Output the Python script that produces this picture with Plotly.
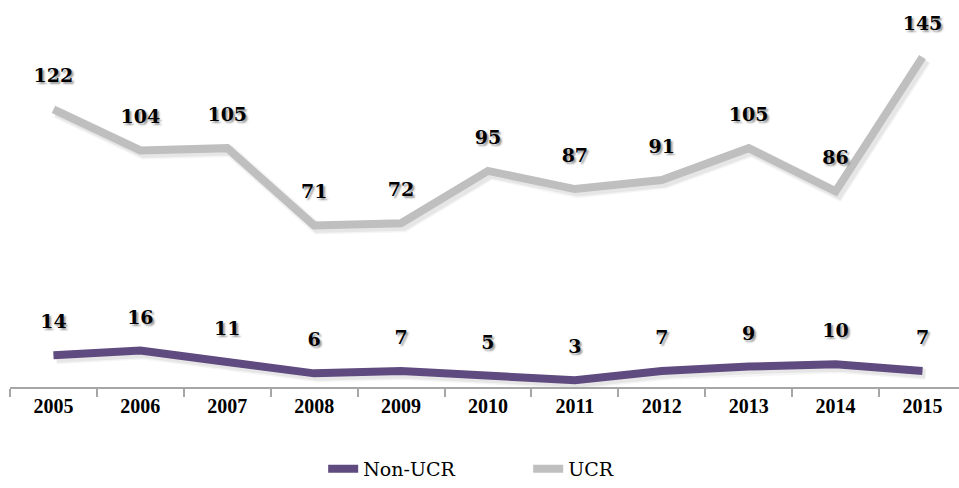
import plotly.graph_objects as go

years = ['2005', '2006', '2007', '2008', '2009', '2010', '2011', '2012', '2013', '2014', '2015']
non_ucr = [14, 16, 11, 6, 7, 5, 3, 7, 9, 10, 7]
ucr = [122, 104, 105, 71, 72, 95, 87, 91, 105, 86, 145]

purple = '#5f4b7f'
grey = '#bfbfbf'
serif = 'Liberation Serif'

xrange_main = [-0.5, 10.42]
yrange_main = [0, 160]
# shadow subplot: same data, ranges nudged so lines land ~3px right/down
xs, ys = 3 / 86.9, 3 / 2.28
xrange_shadow = [xrange_main[0] - xs, xrange_main[1] - xs]
yrange_shadow = [yrange_main[0] + ys, yrange_main[1] + ys]

fig = go.Figure()

# soft drop shadows (drawn first, on hidden axes x/y)
for vals in (non_ucr, ucr):
    for w, a in ((12, 0.04), (9, 0.06)):
        fig.add_trace(go.Scatter(
            x=years, y=vals, mode='lines', xaxis='x', yaxis='y',
            line=dict(color='rgba(0,0,0,%s)' % a, width=w),
            showlegend=False, hoverinfo='skip'
        ))

label_font = dict(family='DejaVu Serif', size=19, color='black', weight='bold',
                  shadow='2px 2px 2px rgba(0,0,0,0.4)')

for name, vals, col in (('Non-UCR', non_ucr, purple), ('UCR', ucr, grey)):
    fig.add_trace(go.Scatter(
        x=years, y=vals, name=name, mode='lines+markers+text',
        xaxis='x2', yaxis='y2',
        line=dict(color=col, width=8),
        marker=dict(size=34, color='rgba(0,0,0,0)'),
        text=[str(v) for v in vals], textposition='top center',
        textfont=label_font, cliponaxis=False
    ))

fig.update_layout(
    width=959, height=488,
    paper_bgcolor='white', plot_bgcolor='rgba(0,0,0,0)',
    margin=dict(l=10, r=0, t=23, b=100),
    font=dict(family=serif, color='black'),
    xaxis=dict(type='category', range=xrange_shadow, visible=False, anchor='y'),
    yaxis=dict(range=yrange_shadow, visible=False, anchor='x'),
    xaxis2=dict(
        type='category', range=xrange_main, anchor='y2',
        showline=True, linecolor='#a6a6a6', linewidth=1.5,
        ticks='outside', tickson='boundaries', ticklen=8, tickcolor='#a6a6a6', tickwidth=1.5,
        showgrid=False, zeroline=False,
        tickfont=dict(family=serif, size=20, color='black', weight='bold'),
    ),
    yaxis2=dict(range=yrange_main, anchor='x2', visible=False),
    showlegend=True,
    legend=dict(
        orientation='h', x=0.33, xanchor='left', y=-0.225, yanchor='middle',
        font=dict(family='DejaVu Serif', size=19, color='black', weight='normal'),
        entrywidth=160, bgcolor='rgba(0,0,0,0)',
    ),
)

fig.write_html('out.html', config={'displayModeBar': False},
               post_script="document.body.style.margin='0';")
